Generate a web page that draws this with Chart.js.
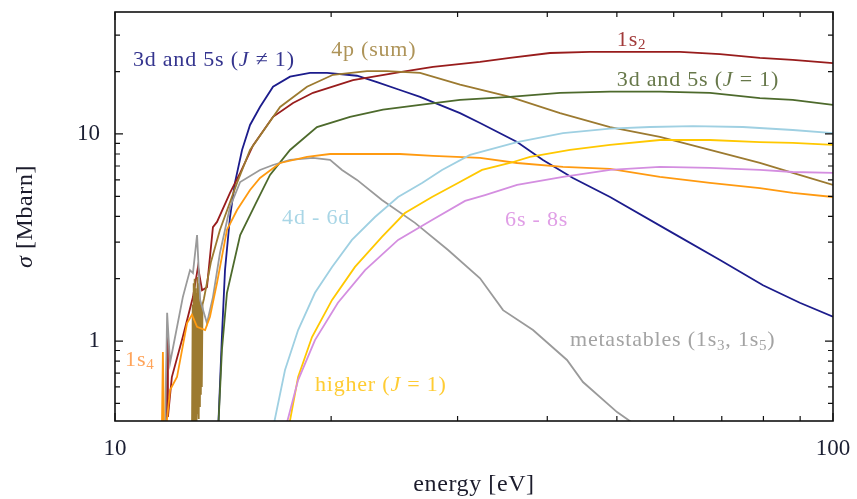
<!DOCTYPE html>
<html>
<head>
<meta charset="utf-8">
<script src="https://cdn.jsdelivr.net/npm/chart.js@4.4.1/dist/chart.umd.min.js"></script>
<style>
  html, body { margin: 0; padding: 0; background: #fff; }
</style>
</head>
<body>
<canvas id="chart" width="857" height="499"></canvas>
<script>
// axis ticks
const xTicks = [10, 20, 30, 40, 50, 60, 70, 80, 90, 100];
const xLabels = [10, 100];
const yTicks = [0.5, 0.6, 0.7, 0.8, 0.9, 1, 2, 3, 4, 5, 6, 7, 8, 9, 10, 20, 30];
const yLabels = [1, 10];

// 1s2
const energy1s2 = [11.78, 11.82, 11.85, 12.00, 12.43, 12.84, 13.05, 13.22, 13.43, 13.69, 13.87, 14.46, 14.94, 15.57, 16.60, 17.70, 18.87, 21.45, 24.94, 27.73, 32.24, 35.49, 40.35, 45.87, 61.2, 69.6, 79.1, 87.9, 100];
const sigma1s2 = [0.35, 1.05, 0.43, 0.67, 1.05, 1.63, 2.28, 1.76, 1.82, 3.55, 3.76, 5.19, 6.48, 8.8, 12.1, 14.1, 15.8, 18.2, 19.9, 21.1, 22.3, 23.3, 24.6, 24.9, 24.9, 24.3, 23.3, 22.8, 22.0];

// 3d and 5s (J != 1)
const energyJn1 = [13.91, 14.09, 14.23, 14.46, 14.69, 15.03, 15.42, 15.92, 16.60, 17.53, 18.69, 19.74, 21.73, 23.17, 24.94, 26.60, 30.24, 32.24, 36.31, 39.45, 43.43, 48.92, 59.86, 69.6, 79.9, 89.9, 100];
const sigmaJn1 = [0.35, 1.05, 2.20, 3.97, 5.80, 8.37, 11.05, 13.5, 16.9, 18.9, 19.7, 19.7, 19.1, 17.8, 16.3, 15.1, 12.6, 11.3, 9.14, 7.49, 6.13, 4.96, 3.32, 2.46, 1.86, 1.53, 1.31];

// 4p (sum)
const energy4p = [12.80, 12.83, 12.85, 12.87, 12.89, 12.91, 12.93, 12.95, 12.97, 12.99, 13.01, 13.03, 13.05, 13.07, 13.09, 13.11, 13.13, 13.15, 13.17, 13.19, 13.21, 13.24, 13.3, 13.6, 14.0, 14.79, 15.42, 16.98, 18.51, 20.12, 22.44, 23.92, 26.60, 30.24, 35.49, 41.67, 48.92, 57.4, 67.4, 79.1, 87.9, 100];
const sigma4p = [0.35, 1.5, 0.38, 1.9, 0.40, 2.0, 0.42, 1.8, 0.38, 1.7, 0.45, 2.04, 0.5, 1.9, 0.42, 1.6, 0.48, 1.5, 0.55, 1.45, 0.6, 1.5, 1.6, 2.4, 3.44, 5.80, 8.37, 13.5, 16.9, 19.3, 20.1, 20.1, 19.7, 17.3, 15.1, 12.6, 10.8, 9.67, 8.37, 7.24, 6.48, 5.67];

// 3d and 5s (J = 1)
const energyJ1 = [13.91, 14.09, 14.32, 14.94, 15.67, 16.44, 17.53, 19.11, 21.25, 23.62, 26.60, 30.24, 35.49, 41.67, 48.92, 57.4, 67.4, 79.1, 87.9, 100];
const sigmaJ1 = [0.35, 0.905, 1.71, 3.25, 4.54, 6.34, 8.37, 10.8, 12.1, 13.1, 13.8, 14.6, 15.1, 15.8, 16.0, 16.0, 15.8, 14.9, 14.6, 13.8];

// 1s4
const energy1s4 = [11.62, 11.66, 11.70, 11.80, 11.93, 12.20, 12.60, 12.80, 13.01, 13.35, 13.56, 13.87, 14.32, 14.79, 15.42, 15.92, 16.98, 18.51, 19.93, 24.94, 27.73, 32.24, 36.31, 42.07, 48.92, 57.4, 67.4, 79.1, 87.9, 100];
const sigma1s4 = [0.35, 0.885, 0.38, 0.40, 0.58, 0.67, 1.22, 1.34, 1.17, 1.13, 1.31, 1.91, 3.44, 4.29, 5.36, 6.13, 7.24, 7.74, 8.00, 8.00, 7.83, 7.66, 7.24, 6.93, 6.78, 6.20, 5.80, 5.48, 5.19, 4.96];

// metastables (1s3, 1s5)
const energyMeta = [11.74, 11.82, 11.93, 12.43, 12.72, 12.84, 13.01, 13.14, 13.43, 13.69, 14.00, 14.46, 14.94, 15.92, 16.60, 17.53, 18.87, 19.93, 20.71, 21.73, 23.54, 26.17, 29.10, 32.24, 34.71, 38.21, 42.61, 44.85, 50.03, 53.84];
const sigmaMeta = [0.35, 1.37, 0.783, 1.63, 2.20, 2.13, 3.25, 1.58, 1.22, 1.63, 2.66, 4.44, 5.86, 6.70, 7.08, 7.49, 7.66, 7.49, 6.70, 6.00, 4.80, 3.72, 2.75, 2.01, 1.41, 1.13, 0.810, 0.634, 0.454, 0.38];

// 4d - 6d
const energy4d = [16.6, 17.25, 17.99, 18.99, 20.06, 21.38, 23.02, 24.79, 26.77, 28.54, 31.22, 36.31, 42.07, 48.92, 55.6, 63.8, 74.9, 87.9, 100];
const sigma4d = [0.38, 0.724, 1.13, 1.71, 2.28, 3.08, 3.97, 4.96, 5.80, 6.70, 7.92, 9.14, 10.1, 10.6, 10.8, 10.9, 10.8, 10.45, 10.1];

// higher (J = 1)
const energyHigh = [17.45, 17.99, 18.81, 20.06, 21.59, 23.54, 25.34, 27.64, 30.04, 32.45, 35.49, 37.84, 43.02, 48.92, 57.4, 67.4, 79.1, 87.9, 100];
const sigmaHigh = [0.38, 0.67, 1.045, 1.58, 2.28, 3.18, 4.15, 4.96, 5.80, 6.70, 7.24, 7.74, 8.37, 8.85, 9.35, 9.35, 9.14, 9.05, 8.85];

// 6s - 8s
const energy6s = [17.28, 17.99, 18.99, 20.44, 22.30, 24.79, 27.64, 30.73, 32.76, 36.31, 42.07, 48.92, 57.4, 67.4, 79.1, 87.9, 100];
const sigma6s = [0.38, 0.648, 1.01, 1.53, 2.20, 3.08, 3.84, 4.75, 5.07, 5.67, 6.20, 6.70, 6.93, 6.85, 6.70, 6.55, 6.48];

const FONT = "'Liberation Serif', 'DejaVu Serif', serif";

function pts(xs, ys) {
  return xs.map((x, i) => ({ x: x, y: ys[i] }));
}

function series(xs, ys, color) {
  return {
    data: pts(xs, ys),
    borderColor: color,
    borderWidth: 1.8,
    pointRadius: 0,
    tension: 0,
    fill: false
  };
}

// curve annotations, anchored in data coordinates (left edge, middle)
const curveLabels = [
  { e: 10.59, s: 22.8, color: "#34348e", parts: [["3d and 5s (", ""], ["J", "i"], [" \u2260 1)", ""]] },
  { e: 20.0, s: 25.5, color: "#ae9459", parts: [["4p (sum)", ""]] },
  { e: 50.0, s: 28.5, color: "#a23a3a", parts: [["1s", ""], ["2", "sub"]] },
  { e: 50.0, s: 18.2, color: "#67784a", parts: [["3d and 5s (", ""], ["J", "i"], [" = 1)", ""]] },
  { e: 17.09, s: 3.93, color: "#a9d6e6", parts: [["4d - 6d", ""]] },
  { e: 34.94, s: 3.84, color: "#e09ee6", parts: [["6s - 8s", ""]] },
  { e: 10.33, s: 0.81, color: "#ffa45a", parts: [["1s", ""], ["4", "sub"]] },
  { e: 18.99, s: 0.613, color: "#ffcc33", parts: [["higher (", ""], ["J", "i"], [" = 1)", ""]] },
  { e: 43.02, s: 1.01, color: "#a3a3a3", parts: [["metastables (1s", ""], ["3", "sub"], [", 1s", ""], ["5", "sub"], [")", ""]] }
];

function drawRich(ctx, parts, x, y, size) {
  let cx = x;
  parts.forEach(([t, style]) => {
    let fs = size, dy = 0, st = "";
    if (style === "i") st = "italic ";
    if (style === "sub") { fs = Math.round(size * 0.7); dy = size * 0.25; }
    ctx.font = st + fs + "px " + FONT;
    ctx.fillText(t, cx, y + dy);
    cx += ctx.measureText(t).width;
  });
}

const framePlugin = {
  id: "framePlugin",
  afterDatasetsDraw(chart) {
    const { ctx, chartArea: a, scales: { x, y } } = chart;
    ctx.save();
    ctx.strokeStyle = "#111";
    ctx.lineWidth = 1.2;
    ctx.beginPath();
    xTicks.forEach(v => {
      const px = x.getPixelForValue(v);
      const len = xLabels.includes(v) ? 8 : 5;
      ctx.moveTo(px, a.bottom); ctx.lineTo(px, a.bottom - len);
      ctx.moveTo(px, a.top); ctx.lineTo(px, a.top + len);
    });
    yTicks.forEach(v => {
      const py = y.getPixelForValue(v);
      const len = yLabels.includes(v) ? 8 : 5;
      ctx.moveTo(a.left, py); ctx.lineTo(a.left + len, py);
      ctx.moveTo(a.right, py); ctx.lineTo(a.right - len, py);
    });
    ctx.stroke();
    ctx.lineWidth = 1.6;
    ctx.strokeRect(a.left, a.top, a.right - a.left, a.bottom - a.top);

    // curve labels
    ctx.textBaseline = "middle";
    ctx.textAlign = "left";
    ctx.letterSpacing = "0.8px";
    curveLabels.forEach(l => {
      ctx.fillStyle = l.color;
      drawRich(ctx, l.parts, x.getPixelForValue(l.e), y.getPixelForValue(l.s), 22);
    });

    // axis titles
    ctx.letterSpacing = "0.6px";
    ctx.fillStyle = "#1c1c2c";
    ctx.textAlign = "center";
    ctx.font = "24px " + FONT;
    ctx.fillText("energy [eV]", (a.left + a.right) / 2, 485);
    ctx.translate(26, (a.top + a.bottom) / 2);
    ctx.rotate(-Math.PI / 2);
    ctx.textAlign = "left";
    const t1 = "\u03c3", t2 = " [Mbarn]";
    ctx.font = "italic 24px " + FONT;
    const w1 = ctx.measureText(t1).width;
    ctx.font = "24px " + FONT;
    const w2 = ctx.measureText(t2).width;
    const start = -(w1 + w2) / 2;
    ctx.font = "italic 24px " + FONT;
    ctx.fillText(t1, start, 0);
    ctx.font = "24px " + FONT;
    ctx.fillText(t2, start + w1, 0);
    ctx.restore();
  }
};

new Chart(document.getElementById("chart").getContext("2d"), {
  type: "line",
  data: {
    datasets: [
      series(energy4d, sigma4d, "#9fd0e2"),
      series(energy6s, sigma6s, "#d48ee0"),
      series(energyHigh, sigmaHigh, "#ffc800"),
      series(energy1s4, sigma1s4, "#ff9a10"),
      series(energyMeta, sigmaMeta, "#9a9a9a"),
      series(energyJ1, sigmaJ1, "#4d6a2c"),
      series(energy4p, sigma4p, "#9c7a30"),
      series(energy1s2, sigma1s2, "#981c1c"),
      series(energyJn1, sigmaJn1, "#1c1c8c")
    ]
  },
  options: {
    responsive: false,
    animation: false,
    layout: { padding: { top: 12, right: 24, left: 0, bottom: 0 } },
    plugins: {
      legend: { display: false },
      tooltip: { enabled: false }
    },
    scales: {
      x: {
        type: "logarithmic",
        min: 10,
        max: 100,
        grid: { display: false, drawTicks: false },
        border: { display: false },
        afterBuildTicks: s => { s.ticks = xTicks.map(v => ({ value: v })); },
        afterFit: s => { s.height = 78; s.paddingLeft = 0; s.paddingRight = 0; },
        ticks: {
          autoSkip: false,
          maxRotation: 0,
          padding: 14,
          color: "#1b1f33",
          font: { family: FONT, size: 23 },
          callback: v => (xLabels.includes(v) ? String(v) : "")
        }
      },
      y: {
        type: "logarithmic",
        min: 0.411,
        max: 38.8,
        grid: { display: false, drawTicks: false },
        border: { display: false },
        afterBuildTicks: s => { s.ticks = yTicks.map(v => ({ value: v })); },
        afterFit: s => { s.width = 115; s.paddingTop = 0; s.paddingBottom = 0; },
        ticks: {
          autoSkip: false,
          padding: 15,
          color: "#1b1f33",
          font: { family: FONT, size: 23 },
          callback: v => (yLabels.includes(v) ? String(v) : "")
        }
      }
    }
  },
  plugins: [framePlugin]
});
</script>
</body>
</html>
